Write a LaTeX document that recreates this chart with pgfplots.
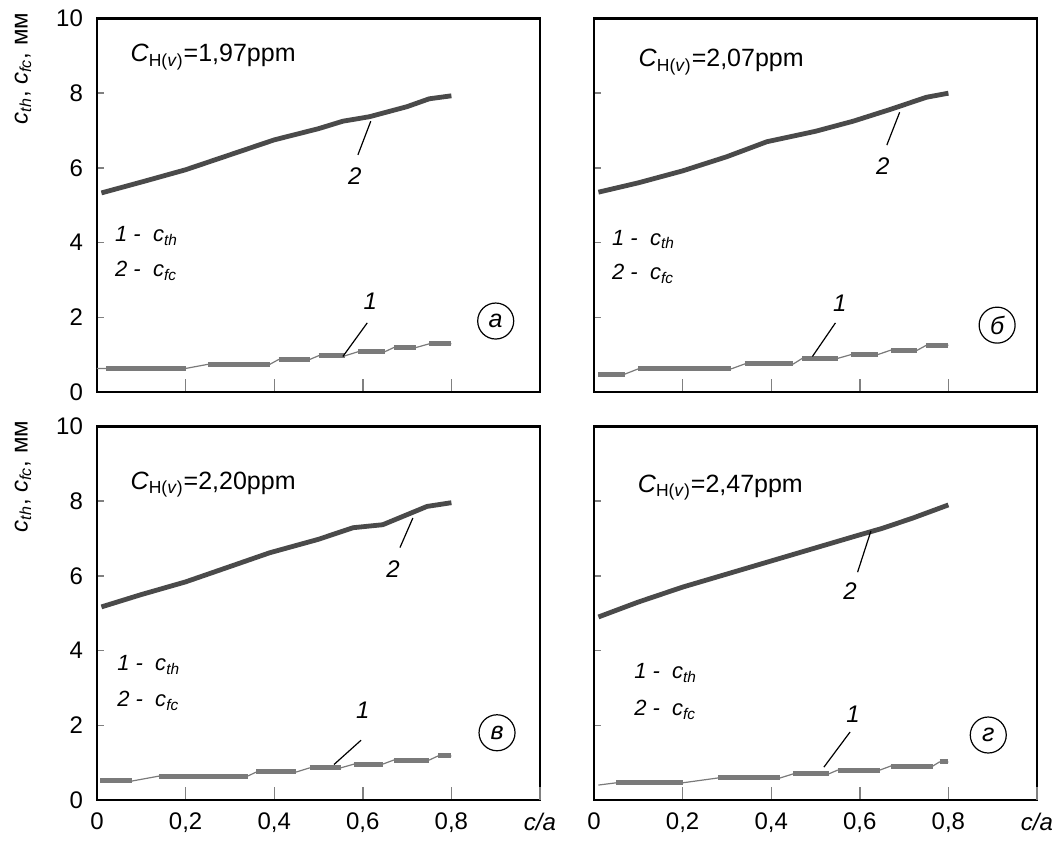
\documentclass[border=0pt]{standalone}
\usepackage{pgfplots}
\pgfplotsset{compat=1.18}
\usepackage{fontspec}
\setmainfont{Liberation Sans}
\definecolor{ctwo}{HTML}{4A4A4A}
\definecolor{cone}{HTML}{7A7A7A}
\newcommand{\tk}{\fontsize{12}{14}\selectfont}
\newcommand{\cth}{\textit{c}\textsubscript{\textit{th}}}
\newcommand{\cfc}{\textit{c}\textsubscript{\textit{fc}}}
\pgfplotsset{
  panel/.style={
    scale only axis, width=221.5pt, height=186.75pt,
    xmin=0, xmax=1, ymin=0, ymax=10,
    xtick={0,0.2,0.4,0.6,0.8}, ytick={0,2,4,6,8,10},
    tick pos=left, tick align=inside,
    axis line style={line width=1.1pt},
    x tick style={line width=0.7pt, /pgfplots/major tick length=6.5pt},
    y tick style={line width=0.7pt, /pgfplots/major tick length=3.5pt},
    /pgf/number format/assume math mode=true,
    /pgf/number format/use comma,
    ticklabel style={font=\tk},
    xticklabel style={yshift=-3pt},
    yticklabel style={xshift=-3.5pt},
    clip=false,
    unbounded coords=jump,
  },
  c2/.style={color=ctwo, line width=2.4pt, line join=round},
  c1thin/.style={color=cone, line width=0.6pt},
  c1thick/.style={color=cone, line width=2.5pt},
}
\tikzset{
  lead/.style={line width=0.6pt, black},
  circ/.style={draw, circle, line width=0.6pt, minimum size=18pt, inner sep=0pt, font=\fontsize{12.5}{14}\selectfont\itshape},
  lab/.style={font=\fontsize{12}{14}\selectfont\itshape},
  leg/.style={anchor=west, font=\fontsize{11}{13}\selectfont\itshape},
  ttl/.style={anchor=west, font=\fontsize{12.5}{15}\selectfont},
}
\newcommand{\ylab}{\node[rotate=90, font=\fontsize{12}{14}\selectfont] at ([xshift=-37pt, yshift=-25pt]rel axis cs:0,1) {\cth, \cfc, мм};}
\begin{document}
\begin{tikzpicture}
\useasboundingbox (0,0) rectangle (528pt,420.5pt);
% ---------- panel a ----------
\begin{axis}[panel, at={(48.5pt,224.5pt)}, anchor=south west, xticklabels={}]
\addplot[c2] coordinates {(0.01,5.33) (0.1,5.62) (0.2,5.95) (0.3,6.35) (0.4,6.75) (0.5,7.05) (0.555,7.25) (0.615,7.37) (0.70,7.64) (0.75,7.85) (0.80,7.93)};
\addplot[c1thin] coordinates {(0.0,0.63) (0.20,0.63) (0.25,0.74) (0.39,0.74) (0.41,0.87) (0.48,0.87) (0.50,0.97) (0.56,0.97) (0.59,1.08) (0.65,1.08) (0.67,1.19) (0.72,1.19) (0.75,1.29) (0.80,1.29)};
\addplot[c1thick] coordinates {(0.02,0.63) (0.20,0.63) (0.2,nan) (0.25,0.74) (0.39,0.74) (0.4,nan) (0.41,0.87) (0.48,0.87) (0.49,nan) (0.50,0.97) (0.56,0.97) (0.57,nan) (0.59,1.08) (0.65,1.08) (0.66,nan) (0.67,1.19) (0.72,1.19) (0.73,nan) (0.75,1.29) (0.80,1.29)};
\draw[lead] (axis cs:0.618,7.25) -- (axis cs:0.589,6.35);
\node[lab] at (axis cs:0.582,5.77) {2};
\draw[lead] (axis cs:0.555,0.95) -- (axis cs:0.61,1.85);
\node[lab] at (axis cs:0.617,2.42) {1};
\node[circ] at (axis cs:0.90,1.9) {а};
\node[ttl] at (axis cs:0.06,8.97) {\textit{C}\textsubscript{H(\textit{v})}=1,97ppm};
\node[leg] at (axis cs:0.025,4.17) {1 -\ \ \cth};
\node[leg] at (axis cs:0.025,3.24) {2 -\ \ \cfc};
\ylab
\end{axis}
% ---------- panel b ----------
\begin{axis}[panel, at={(297pt,224.5pt)}, anchor=south west, xticklabels={}, yticklabels={}]
\addplot[c2] coordinates {(0.01,5.35) (0.1,5.6) (0.2,5.92) (0.3,6.3) (0.39,6.7) (0.5,6.98) (0.585,7.25) (0.67,7.57) (0.75,7.89) (0.80,8.0)};
\addplot[c1thin] coordinates {(0.01,0.48) (0.07,0.48) (0.10,0.62) (0.31,0.62) (0.34,0.75) (0.45,0.75) (0.47,0.9) (0.55,0.9) (0.58,1.0) (0.64,1.0) (0.67,1.12) (0.73,1.12) (0.75,1.25) (0.80,1.25)};
\addplot[c1thick] coordinates {(0.01,0.48) (0.07,0.48) (0.08,nan) (0.10,0.62) (0.31,0.62) (0.32,nan) (0.34,0.75) (0.45,0.75) (0.46,nan) (0.47,0.9) (0.55,0.9) (0.56,nan) (0.58,1.0) (0.64,1.0) (0.65,nan) (0.67,1.12) (0.73,1.12) (0.74,nan) (0.75,1.25) (0.80,1.25)};
\draw[lead] (axis cs:0.69,7.49) -- (axis cs:0.661,6.61);
\node[lab] at (axis cs:0.652,6.05) {2};
\draw[lead] (axis cs:0.493,0.95) -- (axis cs:0.545,1.85);
\node[lab] at (axis cs:0.555,2.37) {1};
\node[circ] at (axis cs:0.91,1.79) {б};
\node[ttl] at (axis cs:0.085,8.83) {\textit{C}\textsubscript{H(\textit{v})}=2,07ppm};
\node[leg] at (axis cs:0.025,4.08) {1 -\ \ \cth};
\node[leg] at (axis cs:0.025,3.17) {2 -\ \ \cfc};
\end{axis}
% ---------- panel v ----------
\begin{axis}[panel, at={(48.5pt,20.5pt)}, anchor=south west,
  extra x ticks={1}, extra x tick labels={\textit{c/a}}, extra x tick style={/pgfplots/major tick length=0pt}]
\addplot[c2] coordinates {(0.01,5.17) (0.1,5.5) (0.2,5.84) (0.3,6.25) (0.39,6.62) (0.5,6.98) (0.578,7.29) (0.645,7.37) (0.745,7.86) (0.80,7.96)};
\addplot[c1thin] coordinates {(0.007,0.51) (0.08,0.51) (0.14,0.64) (0.34,0.64) (0.36,0.75) (0.45,0.75) (0.48,0.86) (0.55,0.86) (0.58,0.96) (0.645,0.96) (0.67,1.07) (0.75,1.07) (0.77,1.18) (0.80,1.18)};
\addplot[c1thick] coordinates {(0.007,0.51) (0.08,0.51) (0.09,nan) (0.14,0.64) (0.34,0.64) (0.35,nan) (0.36,0.75) (0.45,0.75) (0.46,nan) (0.48,0.86) (0.55,0.86) (0.56,nan) (0.58,0.96) (0.645,0.96) (0.65,nan) (0.67,1.07) (0.75,1.07) (0.76,nan) (0.77,1.18) (0.80,1.18)};
\draw[lead] (axis cs:0.713,7.55) -- (axis cs:0.684,6.76);
\node[lab] at (axis cs:0.668,6.17) {2};
\draw[lead] (axis cs:0.535,0.95) -- (axis cs:0.596,1.6);
\node[lab] at (axis cs:0.60,2.41) {1};
\node[circ] at (axis cs:0.903,1.8) {в};
\node[ttl] at (axis cs:0.06,8.44) {\textit{C}\textsubscript{H(\textit{v})}=2,20ppm};
\node[leg] at (axis cs:0.03,3.62) {1 -\ \ \cth};
\node[leg] at (axis cs:0.03,2.65) {2 -\ \ \cfc};
\ylab
\end{axis}
% ---------- panel g ----------
\begin{axis}[panel, at={(297pt,20.5pt)}, anchor=south west, yticklabels={},
  extra x ticks={1}, extra x tick labels={\textit{c/a}}, extra x tick style={/pgfplots/major tick length=0pt}]
\addplot[c2] coordinates {(0.01,4.9) (0.1,5.3) (0.2,5.7) (0.3,6.05) (0.4,6.4) (0.5,6.75) (0.6,7.1) (0.65,7.27) (0.72,7.55) (0.8,7.9)};
\addplot[c1thin] coordinates {(0.01,0.40) (0.05,0.46) (0.20,0.46) (0.28,0.59) (0.42,0.59) (0.45,0.70) (0.53,0.70) (0.55,0.80) (0.645,0.80) (0.67,0.91) (0.765,0.91) (0.78,1.02) (0.80,1.02)};
\addplot[c1thick] coordinates {(0.05,0.46) (0.20,0.46) (0.21,nan) (0.28,0.59) (0.42,0.59) (0.43,nan) (0.45,0.70) (0.53,0.70) (0.54,nan) (0.55,0.80) (0.645,0.80) (0.65,nan) (0.67,0.91) (0.765,0.91) (0.77,nan) (0.78,1.02) (0.80,1.02)};
\draw[lead] (axis cs:0.625,7.2) -- (axis cs:0.595,6.1);
\node[lab] at (axis cs:0.578,5.6) {2};
\draw[lead] (axis cs:0.519,0.88) -- (axis cs:0.578,1.82);
\node[lab] at (axis cs:0.585,2.3) {1};
\node[circ] at (axis cs:0.89,1.74) {г};
\node[ttl] at (axis cs:0.083,8.36) {\textit{C}\textsubscript{H(\textit{v})}=2,47ppm};
\node[leg] at (axis cs:0.075,3.4) {1 -\ \ \cth};
\node[leg] at (axis cs:0.075,2.41) {2 -\ \ \cfc};
\end{axis}
\end{tikzpicture}
\end{document}
